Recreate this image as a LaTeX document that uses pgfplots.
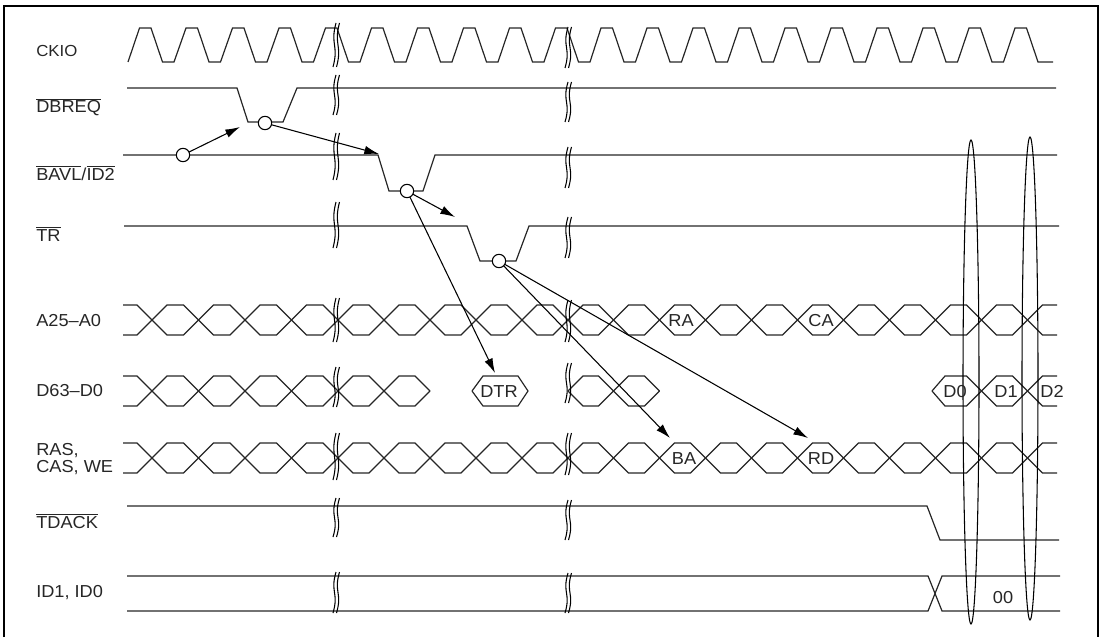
\documentclass[border=0pt]{standalone}
\usepackage{fontspec}
\setmainfont{Liberation Sans}[FakeStretch=1.05]
\usepackage{pgfplots}
\usepackage{pgfplotstable}
\pgfplotsset{compat=1.18}
\usetikzlibrary{arrows.meta}
\newcommand\ovl[1]{\ensuremath{\overline{\mbox{#1}}}}
\newcommand\brkline[3]{\draw[line width=0.8pt] (axis cs:{#1+1.5},#2) .. controls (axis cs:{#1-4.5},{(#2+#3)/2}) and (axis cs:{#1+4.5},{(#2+#3)/2}) .. (axis cs:{#1-1.5},#3);}
\newcommand\brk[3]{\brkline{#1}{#2}{#3}\brkline{#1+3.5}{#2}{#3}}
\tikzset{
  sig/.style={black!85, line width=0.9pt, line join=miter},
  arr/.style={black, line width=0.8pt, -{Latex[length=11pt,width=6.5pt]}},
  lab/.style={anchor=base west, inner sep=0pt, text=black!85, font=\fontsize{13}{15}\selectfont},
  blab/.style={anchor=base, inner sep=0pt, text=black!85, font=\fontsize{13}{15}\selectfont}}

\pgfplotstableread{
x y
128 62
139.5 28
151 28
162.5 62
174 62
186 28
197.5 28
209 62
220.5 62
232.5 28
244 28
255.5 62
267 62
279 28
290.5 28
302 62
313.5 62
325.5 28
337 28
348.5 62
360 62
371.5 28
383 28
394.5 62
406 62
417.5 28
429 28
440.5 62
452 62
463.5 28
475 28
486.5 62
498 62
509.5 28
521 28
532.5 62
544 62
555.5 28
567 28
578.5 62
590 62
601 28
612.5 28
624 62
635.5 62
647 28
658.5 28
670 62
681.5 62
693 28
704.5 28
716 62
727.5 62
739 28
750.5 28
762 62
773.5 62
785 28
796.5 28
808 62
819.5 62
831 28
842.5 28
854 62
865.5 62
877 28
888.5 28
900 62
911.5 62
923 28
934.5 28
946 62
957.5 62
969 28
980.5 28
992 62
1003.5 62
1015 28
1026.5 28
1038 62
1053 62
}\clock

\pgfplotstableread{
x au al ru rl
123 305 335 443 473
137 305 335 443 473
167 335 305 473 443
183.5 335 305 473 443
213.5 305 335 443 473
230 305 335 443 473
260 335 305 473 443
276.5 335 305 473 443
306.5 305 335 443 473
323 305 335 443 473
353 335 305 473 443
369 335 305 473 443
399 305 335 443 473
415 305 335 443 473
445 335 305 473 443
461 335 305 473 443
491 305 335 443 473
507 305 335 443 473
537 335 305 473 443
553 335 305 473 443
583 305 335 443 473
598.5 305 335 443 473
628.5 335 305 473 443
644.5 335 305 473 443
674.5 305 335 443 473
690.5 305 335 443 473
720.5 335 305 473 443
736.5 335 305 473 443
766.5 305 335 443 473
782.5 305 335 443 473
812.5 335 305 473 443
828.5 335 305 473 443
858.5 305 335 443 473
874.5 305 335 443 473
904.5 335 305 473 443
920.5 335 305 473 443
950.5 305 335 443 473
966.5 305 335 443 473
996.5 335 305 473 443
1012.5 335 305 473 443
1042.5 305 335 443 473
1057 305 335 443 473
}\bus

\begin{document}
\begin{tikzpicture}
\begin{axis}[scale only axis, width=827.25pt, height=477.75pt,
  xmin=0, xmax=1103, ymin=0, ymax=637, y dir=reverse,
  hide axis, clip=false]
\path (axis cs:0,0) rectangle (axis cs:1103,637);
% frame
\draw[line width=2pt] (axis cs:4,637) -- (axis cs:4,6) -- (axis cs:1098,6) -- (axis cs:1098,637);

% CKIO
\addplot[sig] table[x=x,y=y] {\clock};
% DBREQ
\addplot[sig] coordinates {(127,88) (237,88) (248,122) (283,122) (297,88) (1056,88)};
% BAVL/ID2
\addplot[sig] coordinates {(123,155) (378,155) (389,191) (423,191) (435,155) (1057,155)};
% TR
\addplot[sig] coordinates {(124,226) (467,226) (480,261) (516,261) (529,226) (1059,226)};
% A25-A0
\addplot[sig] table[x=x,y=au] {\bus};
\addplot[sig] table[x=x,y=al] {\bus};
% RAS CAS WE
\addplot[sig] table[x=x,y=ru] {\bus};
\addplot[sig] table[x=x,y=rl] {\bus};
% D63-D0
\addplot[sig] coordinates {(123,376) (137,376) (167,406) (183.5,406) (213.5,376) (230,376) (260,406) (276.5,406) (306.5,376) (323,376) (353,406) (369,406) (399,376) (415,376) (430,391)};
\addplot[sig] coordinates {(123,406) (137,406) (167,376) (183.5,376) (213.5,406) (230,406) (260,376) (276.5,376) (306.5,406) (323,406) (353,376) (369,376) (399,406) (415,406) (430,391)};
\addplot[sig] coordinates {(472,391) (483,376) (518,376) (528,391) (518,406) (483,406) (472,391)};
\addplot[sig] coordinates {(568,391) (583,376) (598.5,376) (628.5,406) (644.5,406) (659.5,391)};
\addplot[sig] coordinates {(568,391) (583,406) (598.5,406) (628.5,376) (644.5,376) (659.5,391)};
\addplot[sig] coordinates {(932,391) (945,376) (966.5,376) (996.5,406) (1012.5,406) (1042.5,376) (1057,376)};
\addplot[sig] coordinates {(932,391) (945,406) (966.5,406) (996.5,376) (1012.5,376) (1042.5,406) (1057,406)};
% TDACK
\addplot[sig] coordinates {(127,506) (927,506) (940,540) (1059,540)};
% ID1, ID0
\addplot[sig] coordinates {(127,576) (928,576) (942,611) (1060,611)};
\addplot[sig] coordinates {(127,611) (928,611) (942,576) (1060,576)};

% break marks
\brk{334.5}{23}{67}
\brk{334.5}{75}{115}
\brk{334.5}{133}{180}
\brk{334.5}{202}{248}
\brk{334.5}{298}{342}
\brk{334.5}{367}{407}
\brk{334.5}{433}{480}
\brk{334.5}{498}{537}
\brk{334.5}{572}{613}
\brk{566.5}{27}{68}
\brk{566.5}{82}{122}
\brk{566.5}{147}{188}
\brk{566.5}{217}{258}
\brk{566.5}{300}{342}
\brk{566.5}{363}{403}
\brk{566.5}{433}{475}
\brk{566.5}{500}{540}
\brk{566.5}{573}{613}

% arrows
\addplot[arr] coordinates {(183,155) (240,127)};
\addplot[arr] coordinates {(265,123) (379,154)};
\addplot[arr] coordinates {(407,191) (455,217)};
\addplot[arr] coordinates {(407,191) (495,373)};
\addplot[arr] coordinates {(499,261) (670,438)};
\addplot[arr] coordinates {(499,261) (808,438)};
% event circles
\addplot[only marks, mark=*, mark size=5pt, mark options={fill=white, draw=black, line width=0.8pt}] coordinates {(183,155) (265,123) (407,191) (499,261)};

% ellipses
\draw[line width=0.8pt] (axis cs:971,382) ellipse [x radius=8, y radius=242];
\draw[line width=0.8pt] (axis cs:1030,378.5) ellipse [x radius=8, y radius=241.5];

% labels
\node[lab, font=\fontsize{12}{14}\selectfont] at (axis cs:36,57) {CKIO};
\node[lab] at (axis cs:36,113) {\ovl{DBREQ}};
\node[lab] at (axis cs:36,180) {\ovl{BAVL}/\ovl{ID2}};
\node[lab] at (axis cs:36,241.5) {\ovl{TR}};
\node[lab] at (axis cs:36,326.5) {A25--A0};
\node[lab] at (axis cs:36,396.5) {D63--D0};
\node[lab] at (axis cs:36,455) {RAS,};
\node[lab] at (axis cs:36,472.5) {CAS, WE};
\node[lab] at (axis cs:36,528) {\ovl{TDACK}};
\node[lab] at (axis cs:36,597) {ID1, ID0};

\node[blab] at (axis cs:681,326) {RA};
\node[blab] at (axis cs:821,326) {CA};
\node[blab] at (axis cs:499,397) {DTR};
\node[blab] at (axis cs:955,397) {D0};
\node[blab] at (axis cs:1006,397) {D1};
\node[blab] at (axis cs:1052,397) {D2};
\node[blab] at (axis cs:684,464) {BA};
\node[blab] at (axis cs:821,464) {RD};
\node[blab] at (axis cs:1003,603) {00};
\end{axis}
\end{tikzpicture}
\end{document}
